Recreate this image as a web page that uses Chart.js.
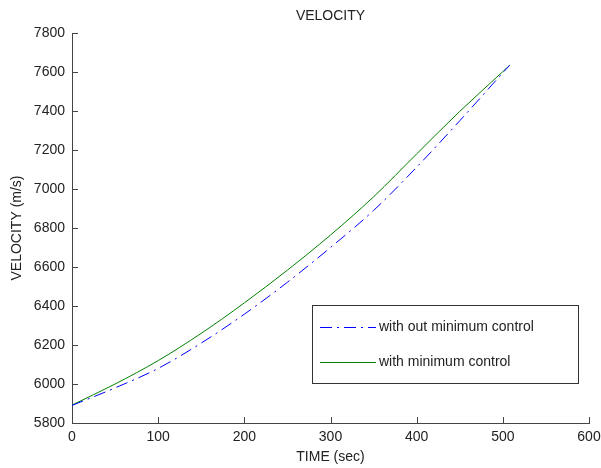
<!DOCTYPE html>
<html>
<head>
<meta charset="utf-8">
<script src="https://cdn.jsdelivr.net/npm/chart.js@4"></script>
<style>
  html, body { margin: 0; padding: 0; background: #fff; }
  #wrap { width: 601px; height: 468px; }
</style>
</head>
<body>
<div id="wrap"><canvas id="velChart"></canvas></div>
<script>
// time (sec) samples and velocities (m/s)
const timeSec = [0, 50, 100, 150, 200, 250, 300, 350, 400, 450, 500, 508];
const noControl = [5890, 5980, 6080, 6210, 6358, 6522, 6700, 6890, 7112, 7350, 7596, 7635];
const minControl = [5892, 6000, 6120, 6260, 6416, 6584, 6764, 6960, 7180, 7398, 7602, 7635];
const xTicks = [0, 100, 200, 300, 400, 500, 600];
const yTicks = [5800, 6000, 6200, 6400, 6600, 6800, 7000, 7200, 7400, 7600, 7800];

const FONT = 'Arial, "Liberation Sans", sans-serif';
const ctx = document.getElementById('velChart').getContext('2d');

// MATLAB style: title over the axes, ticks pointing inward, legend box inside the axes
const matlabBits = {
  id: 'matlabBits',
  afterDraw(chart) {
    const c = chart.ctx;
    const xs = chart.scales.x, ys = chart.scales.y;
    const area = chart.chartArea;
    c.save();

    c.fillStyle = '#222';
    c.font = '14px ' + FONT;
    c.textAlign = 'center';
    c.textBaseline = 'middle';
    c.fillText('VELOCITY', (area.left + area.right) / 2, 16);
    c.textAlign = 'left';

    c.strokeStyle = '#444';
    c.lineWidth = 1;
    xTicks.forEach(v => {
      const px = Math.round(xs.getPixelForValue(v)) + 0.5;
      c.beginPath();
      c.moveTo(px, area.bottom);
      c.lineTo(px, area.bottom - 6);
      c.stroke();
    });
    yTicks.forEach(v => {
      const py = Math.round(ys.getPixelForValue(v)) + 0.5;
      c.beginPath();
      c.moveTo(area.left, py);
      c.lineTo(area.left + 6, py);
      c.stroke();
    });

    // legend
    const bx = 312.5, by = 305.5, bw = 266, bh = 78;
    c.fillStyle = '#fff';
    c.fillRect(bx, by, bw, bh);
    c.strokeStyle = '#333';
    c.strokeRect(bx, by, bw, bh);
    const rows = [327.5, 362.5];
    chart.data.datasets.forEach((ds, i) => {
      c.beginPath();
      c.strokeStyle = ds.borderColor;
      c.setLineDash(ds.borderDash || []);
      c.moveTo(320, rows[i]);
      c.lineTo(376, rows[i]);
      c.stroke();
      c.setLineDash([]);
      c.fillStyle = '#222';
      c.fillText(ds.label, 379, rows[i]);
    });
    c.restore();
  }
};

new Chart(ctx, {
  type: 'line',
  data: {
    datasets: [
      {
        label: 'with out minimum control',
        data: timeSec.map((t, i) => ({ x: t, y: noControl[i] })),
        borderColor: '#0000ff',
        borderWidth: 1,
        borderDash: [12, 5, 2, 5],
        pointRadius: 0,
        cubicInterpolationMode: 'monotone',
        fill: false
      },
      {
        label: 'with minimum control',
        data: timeSec.map((t, i) => ({ x: t, y: minControl[i] })),
        borderColor: '#008000',
        borderWidth: 1,
        pointRadius: 0,
        cubicInterpolationMode: 'monotone',
        fill: false
      }
    ]
  },
  options: {
    responsive: true,
    maintainAspectRatio: false,
    animation: false,
    layout: { padding: { left: 0, right: 12, top: 33, bottom: 0 } },
    plugins: {
      legend: { display: false },
      tooltip: { enabled: false },
      title: { display: false }
    },
    scales: {
      x: {
        type: 'linear',
        min: 0,
        max: 600,
        afterFit: s => { s.height = 45; s.paddingLeft = 0; s.paddingRight = 0; },
        afterBuildTicks: s => { s.ticks = xTicks.map(v => ({ value: v })); },
        grid: { display: false, drawTicks: false },
        border: { display: true, color: '#444', width: 1 },
        ticks: {
          color: '#222', padding: 6, maxRotation: 0,
          font: { family: FONT, size: 14 },
          callback: v => String(v)
        },
        title: {
          display: true,
          text: 'TIME (sec)',
          color: '#222',
          font: { family: FONT, size: 14 },
          padding: { top: 2, bottom: 2 }
        }
      },
      y: {
        type: 'linear',
        min: 5800,
        max: 7800,
        afterFit: s => { s.width = 72; s.paddingTop = 0; s.paddingBottom = 0; },
        afterBuildTicks: s => { s.ticks = yTicks.map(v => ({ value: v })); },
        grid: { display: false, drawTicks: false },
        border: { display: true, color: '#444', width: 1 },
        ticks: {
          color: '#222', padding: 7,
          font: { family: FONT, size: 14 },
          callback: v => String(v)
        },
        title: {
          display: true,
          text: 'VELOCITY (m/s)',
          color: '#222',
          font: { family: FONT, size: 14 },
          padding: { top: 9, bottom: 2 }
        }
      }
    }
  },
  plugins: [matlabBits]
});
</script>
</body>
</html>
